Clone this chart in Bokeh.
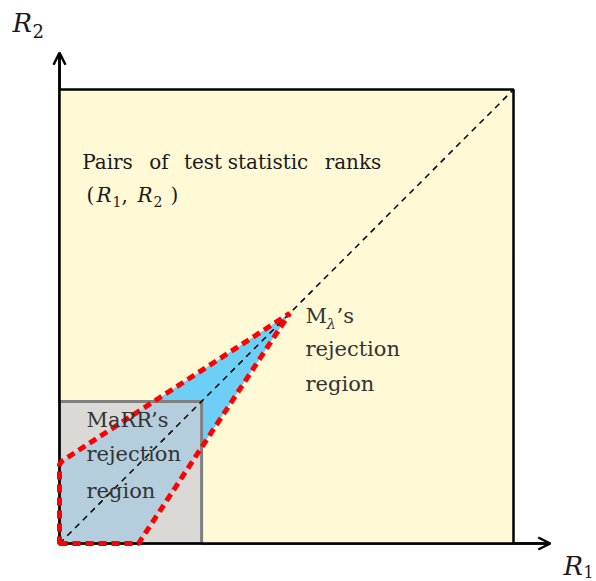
from bokeh.plotting import figure
from bokeh.models import Range1d, Arrow, OpenHead
from bokeh.core.properties import value
from bokeh.embed import file_html
from bokeh.resources import INLINE

# Rank space normalised to [0, 1] on both axes
rank_max = 1.0

# MaRR rejection region: square of side equal to the rank threshold
marr_threshold = 0.313

# M_lambda rejection region: polygon around the diagonal (R1, R2)
mlambda_r1 = [0.0, 0.174, 0.507, 0.006, 0.0]
mlambda_r2 = [0.0, 0.0, 0.507, 0.182, 0.174]

# Axis extent (arrow tips)
axis_end = 1.081

SERIF = value("DejaVu Serif")
UNIT = 454.0  # pixels per unit of rank

p = figure(width=596, height=581, output_backend="svg", toolbar_location=None,
           x_range=Range1d(-59 / UNIT, 537 / UNIT),
           y_range=Range1d(-38 / UNIT, 543 / UNIT),
           min_border=0)
p.axis.visible = False
p.grid.visible = False
p.outline_line_color = None
p.background_fill_color = "white"
p.border_fill_color = "white"

# Whole space of rank pairs
p.quad(left=0, right=rank_max, bottom=0, top=rank_max,
       fill_color="#FFF9D6", line_color=None)

# M_lambda region fill
p.patch(mlambda_r1, mlambda_r2, fill_color="#6DCFF6", line_color=None)

# MaRR region (translucent grey square)
p.quad(left=0, right=marr_threshold, bottom=0, top=marr_threshold,
       fill_color="#CDCED6", fill_alpha=0.75, line_color="#808080", line_width=3)

# Diagonal R1 = R2
p.line([0, rank_max], [0, rank_max], line_color="black", line_width=1.5,
       line_dash="6 5")

# Axis lines and the top/right frame of the rank square
p.line([0, axis_end], [0, 0], line_color="black", line_width=2.5)
p.line([0, 0], [0, axis_end], line_color="black", line_width=2.5)
p.line([0, rank_max, rank_max], [rank_max, rank_max, 0], line_color="black",
       line_width=2.5)

# M_lambda region outline
p.patch(mlambda_r1, mlambda_r2, fill_color=None, line_color="#FF0000",
        line_width=5, line_dash="8 5")

# Arrow heads at the axis ends
for xe, ye in [(axis_end, 0), (0, axis_end)]:
    p.add_layout(Arrow(end=OpenHead(size=12, line_width=2.5, line_color="black"),
                       x_start=0, y_start=0, x_end=xe, y_end=ye,
                       line_width=2.5, line_color="black", level="underlay"))


def px(x):
    return (x - 59) / UNIT


def py(y):
    return (543 - y) / UNIT


def txt(x, y, s, size, color="#1a1a1a", style="normal", align="left"):
    # y is the wanted baseline in pixels; the glyph sits ~0.39 em lower
    p.text(x=[px(x)], y=[py(y - 0.39 * size)], text=[s], text_font=SERIF,
           text_font_size=f"{size}px", text_color=color, text_font_style=style,
           text_align=align, text_baseline="alphabetic")


# Axis titles
txt(12, 33, "R", 26, style="italic")
txt(32, 38, "2", 18)
txt(563, 576, "R", 26, style="italic")
txt(583, 578, "1", 16)

# Description of the rank space (justified words)
words = ["Pairs", "of", "test", "statistic", "ranks"]
word_cx = [107, 158.5, 202.5, 267.5, 352.5]
for w, x in zip(words, word_cx):
    txt(x, 169, w, 20, align="center")
txt(86, 202, "(", 20)
txt(96, 202, "R", 20, style="italic")
txt(112, 206, "1", 14)
txt(121, 202, ",", 20)
txt(137, 202, "R", 20, style="italic")
txt(153, 206, "2", 14)
txt(170, 202, ")", 20)

# M_lambda region label
label = "#333333"
txt(305, 324, "M", 21, label)
txt(326, 329, "λ", 15, label, style="italic")
txt(336, 324, "’s", 21, label)
txt(305, 357, "rejection", 21, label)
txt(305, 392, "region", 21, label)

# MaRR region label
txt(86, 428, "MaRR’s", 21, label)
txt(86, 462, "rejection", 21, label)
txt(86, 499, "region", 21, label)

open("out.html", "w").write(file_html(p, INLINE))
